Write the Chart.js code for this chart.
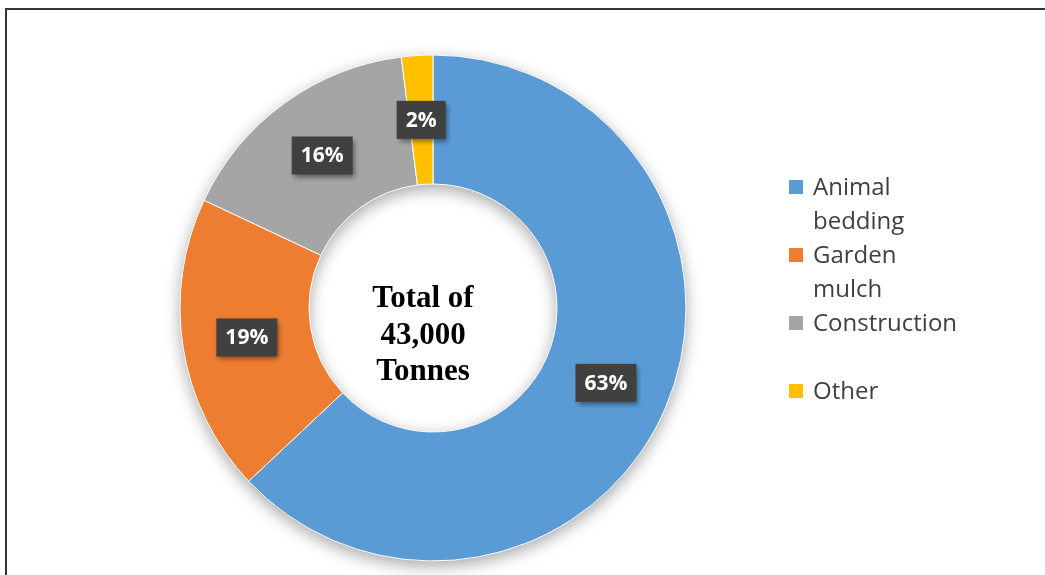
<!DOCTYPE html>
<html><head><meta charset="utf-8">
<script src="https://cdn.jsdelivr.net/npm/chart.js@4.4.1/dist/chart.umd.min.js"></script>
<style>
html,body{margin:0;padding:0;background:#fff;width:1045px;height:575px;overflow:hidden;}
#wrap{position:relative;width:1045px;height:575px;}
#frame{position:absolute;left:5px;top:8px;right:-4px;bottom:-4px;border-left:2.5px solid #333;border-top:2.5px solid #333;}
#c{position:absolute;left:0;top:0;}
#legend{position:absolute;left:789px;top:169px;font-family:'Open Sans',sans-serif;font-size:24px;color:#404040;}
.item{position:relative;height:68px;padding-left:24px;line-height:34px;white-space:nowrap;}
.sw{position:absolute;left:0;top:11px;width:14px;height:14px;}
</style>
</head><body>
<div id="wrap">
<div id="frame"></div>
<canvas id="c" width="1045" height="575"></canvas>
<div id="legend"></div>
</div>
<script>
const categories = ['Animal bedding', 'Garden mulch', 'Construction', 'Other'];
const values = [63, 19, 16, 2];
const colors = ['#5B9BD5', '#ED7D31', '#A5A5A5', '#FFC000'];
const centerLines = ['Total of', '43,000', 'Tonnes'];

// HTML legend built from the data arrays
const legendEl = document.getElementById('legend');
categories.forEach((cat, i) => {
  const item = document.createElement('div');
  item.className = 'item';
  const sw = document.createElement('span');
  sw.className = 'sw';
  sw.style.background = colors[i];
  item.appendChild(sw);
  cat.split(' ').forEach(word => {
    const line = document.createElement('div');
    line.textContent = word;
    item.appendChild(line);
  });
  legendEl.appendChild(item);
});

const ringShadow = {
  id: 'ringShadow',
  beforeDatasetsDraw(chart) {
    const meta = chart.getDatasetMeta(0);
    if (!meta.data.length) return;
    const a = meta.data[0];
    const {x, y, outerRadius, innerRadius} = a.getProps(['x', 'y', 'outerRadius', 'innerRadius'], true);
    const ctx = chart.ctx;
    ctx.save();
    ctx.shadowColor = 'rgba(0,0,0,0.35)';
    ctx.shadowBlur = 16;
    ctx.shadowOffsetX = 0;
    ctx.shadowOffsetY = 5;
    ctx.fillStyle = '#999';
    ctx.beginPath();
    ctx.arc(x, y, outerRadius, 0, Math.PI * 2);
    ctx.arc(x, y, innerRadius, 0, Math.PI * 2, true);
    ctx.closePath();
    ctx.fill();
    ctx.restore();
  }
};

const labelsPlugin = {
  id: 'labelBoxes',
  afterDatasetsDraw(chart) {
    const ctx = chart.ctx;
    const meta = chart.getDatasetMeta(0);
    ctx.save();
    ctx.font = 'bold 21px "Open Sans"';
    ctx.textAlign = 'center';
    ctx.textBaseline = 'middle';
    meta.data.forEach((arc, i) => {
      const p = arc.tooltipPosition(true);
      const txt = chart.data.datasets[0].data[i] + '%';
      const w = ctx.measureText(txt).width + 18;
      const h = 38;
      ctx.save();
      ctx.shadowColor = 'rgba(0,0,0,0.45)';
      ctx.shadowBlur = 5;
      ctx.shadowOffsetX = 2;
      ctx.shadowOffsetY = 3;
      ctx.fillStyle = '#404040';
      ctx.fillRect(p.x - w / 2, p.y - h / 2, w, h);
      ctx.restore();
      ctx.fillStyle = '#ffffff';
      ctx.fillText(txt, p.x, p.y + 1);
    });
    // centre text
    const a = meta.data[0];
    ctx.font = 'bold 31px "Liberation Serif"';
    ctx.fillStyle = '#000000';
    ctx.textBaseline = 'alphabetic';
    centerLines.forEach((t, i) => {
      ctx.fillText(t, a.x - 10, a.y - 1 + i * 36.5);
    });
    ctx.restore();
  }
};

new Chart(document.getElementById('c'), {
  type: 'doughnut',
  data: {
    labels: categories,
    datasets: [{
      data: values,
      backgroundColor: colors,
      borderColor: '#ffffff',
      borderWidth: 1,
      hoverOffset: 0
    }]
  },
  options: {
    responsive: false,
    animation: false,
    events: [],
    radius: 253,
    cutout: '49%',
    rotation: 0,
    layout: {padding: {left: 0, right: 179, top: 41, bottom: 0}},
    plugins: {
      legend: {display: false},
      tooltip: {enabled: false},
      title: {display: false}
    }
  },
  plugins: [ringShadow, labelsPlugin]
});
</script>
</body></html>
